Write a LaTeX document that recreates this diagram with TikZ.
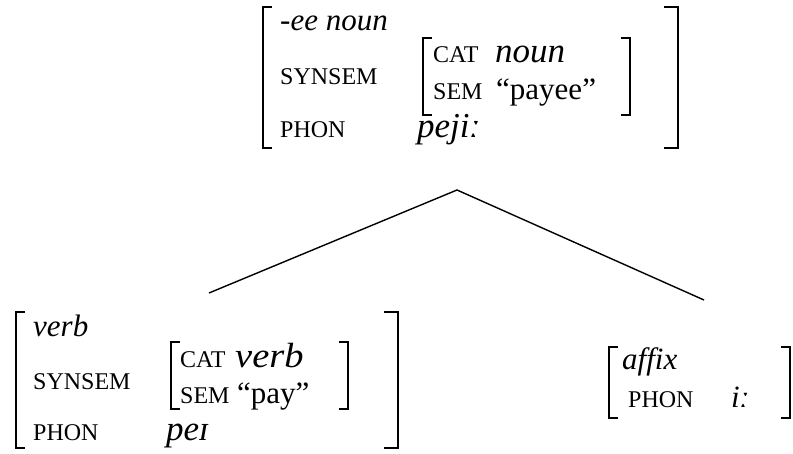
\documentclass[tikz,border=0pt]{standalone}
\usepackage{fontspec}
\setmainfont{Liberation Serif}
\begin{document}
\begin{tikzpicture}[x=1pt,y=-1pt,
  txt/.style={anchor=base west,inner sep=0pt,font=\fontsize{31}{31}\selectfont},
  itx/.style={anchor=base west,inner sep=0pt,font=\fontsize{31}{31}\selectfont\itshape},
  itv/.style={anchor=base west,inner sep=0pt,font=\fontsize{35}{35}\selectfont\itshape},
  feat/.style={anchor=base west,inner sep=0pt,font=\fontsize{24}{24}\selectfont},
  brk/.style={line width=2.4pt},
  edge/.style={line width=1.4pt}]
\useasboundingbox (0,0) rectangle (793,454);
% bracket macros
\def\lbr#1#2#3#4{\draw[brk] (#1+#4,#2) -- (#1,#2) -- (#1,#3) -- (#1+#4,#3);}
\def\rbr#1#2#3#4{\draw[brk] (#1-#4,#2) -- (#1,#2) -- (#1,#3) -- (#1-#4,#3);}
% ---- top box
\lbr{263}{7}{148}{9}
\rbr{678}{7}{148}{14}
\node[itx] (t1) at (280,31) {-ee noun};
\node[feat] (t2) at (280,85) {SYNSEM};
\node[feat] (t3) at (280,138) {PHON};
\node[itv] (t4) at (417,138) {peji\symbol{"02D0}};
\lbr{423}{38}{115}{9}
\rbr{630}{38}{115}{9}
\node[feat] (t5) at (433,63) {CAT};
\node[itv] (t6) at (495,63) {noun};
\node[feat] (t7) at (433,100) {SEM};
\node[txt] (t8) at (496,100) {“payee”};
% ---- left box
\lbr{16}{312}{448}{9}
\rbr{398}{312}{448}{14}
\node[itx] (l1) at (33,337) {verb};
\node[feat] (l2) at (33,389) {SYNSEM};
\node[feat] (l3) at (33,440) {PHON};
\node[itv] (l4) at (166,440) {pe\symbol{"026A}};
\lbr{171}{342}{409}{9}
\rbr{348}{342}{409}{9}
\node[feat] (l5) at (180,368) {CAT};
\node[itv] (l6) at (235,368) {\scalebox{1.1}[1]{verb}};
\node[feat] (l7) at (180,403) {SEM};
\node[txt] (l8) at (237,403) {“pay”};
% ---- right box
\lbr{609}{347}{418}{9}
\rbr{790}{347}{418}{9}
\node[itx] (r1) at (622,370) {affix};
\node[feat] (r2) at (628,408) {PHON};
\node[itx] (r3) at (731,408) {i\symbol{"02D0}};
% ---- tree lines
\coordinate (apex) at (457,190);
\coordinate (lend) at (209,293);
\coordinate (rend) at (704,300);
\draw[edge] (lend) -- (apex) -- (rend);
\end{tikzpicture}
\end{document}
